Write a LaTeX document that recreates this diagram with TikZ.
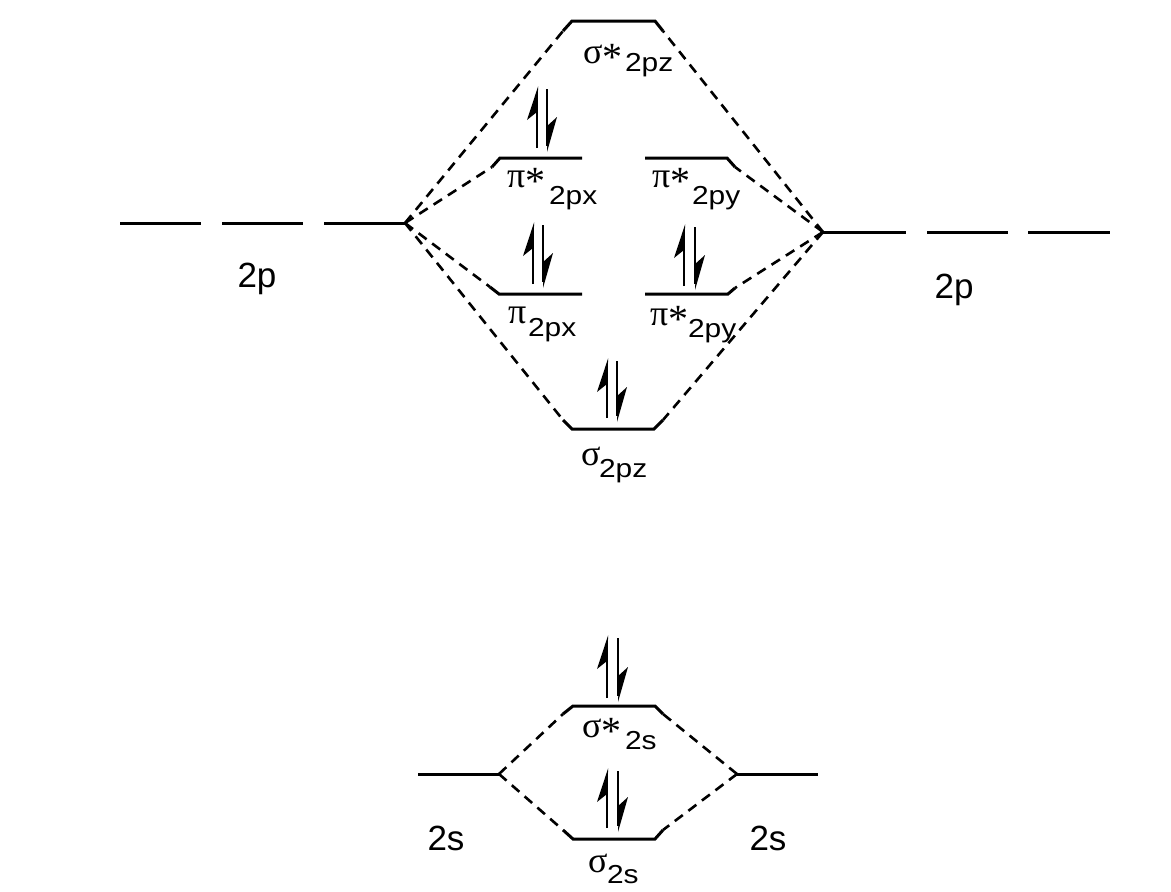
\documentclass[tikz,border=0pt]{standalone}
\usepackage{fontspec}
\setmainfont{Liberation Sans}
\newfontfamily\gk{Liberation Serif}
\newfontfamily\subf[FakeStretch=1.15]{Liberation Sans}
\newcommand\myast{{\fontsize{40}{40}\selectfont\raisebox{-7pt}{*}}}
\newcommand\uparr[3]{%
  \draw[elec] (#1,#3) -- (#1,#2+6);
  \fill (#1+1.2,#2) -- (#1-10,#2+34) -- (#1,#2+26) -- cycle;}
\newcommand\downarr[3]{%
  \draw[elec] (#1,#2) -- (#1,#3-6);
  \fill (#1,#3) -- (#1+10,#3-35) -- (#1+1.2,#3-27) -- cycle;}
\newcommand\epair[4]{\uparr{#1}{#3}{#4-4}\downarr{#2}{#3+3}{#4}}
\begin{document}
\begin{tikzpicture}[x=1pt,y=-1pt,
  level/.style={line width=3pt,line join=miter},
  corr/.style={line width=2.6pt,dash pattern=on 10pt off 7pt},
  elec/.style={line width=2.7pt},
  sym/.style={inner sep=0pt,outer sep=0pt,anchor=base west,font=\fontsize{36}{36}\selectfont\gk},
  sub/.style={inner sep=0pt,outer sep=0pt,anchor=base west,font=\fontsize{26}{26}\selectfont\subf},
  big/.style={inner sep=0pt,anchor=base,font=\fontsize{35}{35}\selectfont}]
\useasboundingbox (0,0) rectangle (1171,892);
% vertices
\coordinate (LV) at (405,223);
\coordinate (RV) at (823,232);
\coordinate (LVs) at (499,774);
\coordinate (RVs) at (737,774);
% orbital ends
\coordinate (szsL) at (563,31);  \coordinate (szsR) at (663,31);
\coordinate (pxsL) at (492,167); \coordinate (pysR) at (735,167);
\coordinate (pxL) at (490,287);  \coordinate (pyR) at (735,288);
\coordinate (szL) at (563,420);  \coordinate (szR) at (663,420);
\coordinate (sssL) at (563,714); \coordinate (sssR) at (663,714);
\coordinate (ssL) at (563,830);  \coordinate (ssR) at (663,830);
% atomic levels
\draw[level] (120,223) -- (201,223);
\draw[level] (222,223) -- (303,223);
\draw[level] (324,223) -- (LV);
\draw[level] (RV) -- (906,232);
\draw[level] (927,232) -- (1008,232);
\draw[level] (1028,232) -- (1110,232);
\draw[level] (418,774) -- (LVs);
\draw[level] (RVs) -- (818,774);
% molecular levels
\draw[level] (szsL) -- (572,21) -- (655,21) -- (szsR);
\draw[level] (pxsL) -- (500,158) -- (582,158);
\draw[level] (645,158) -- (727,158) -- (pysR);
\draw[level] (pxL) -- (499,294) -- (582,294);
\draw[level] (645,294) -- (728,294) -- (pyR);
\draw[level] (szL) -- (572,429) -- (654,429) -- (szR);
\draw[level] (sssL) -- (573,706) -- (655,706) -- (sssR);
\draw[level] (ssL) -- (573,839) -- (655,839) -- (ssR);
% correlation lines
\draw[corr] (LV) -- (szsL);
\draw[corr] (LV) -- (pxsL);
\draw[corr] (LV) -- (pxL);
\draw[corr] (LV) -- (szL);
\draw[corr] (RV) -- (szsR);
\draw[corr] (RV) -- (pysR);
\draw[corr] (RV) -- (pyR);
\draw[corr] (RV) -- (szR);
\draw[corr] (LVs) -- (sssL);
\draw[corr] (LVs) -- (ssL);
\draw[corr] (RVs) -- (sssR);
\draw[corr] (RVs) -- (ssR);
% electrons
\epair{537}{547}{86}{152}
\epair{533}{543}{222}{288}
\epair{684}{695}{224}{290}
\epair{607}{617}{358}{422}
\epair{607}{618}{635}{702}
\epair{607}{618}{768}{832}
% labels
\node[sym] (l1) at (583,63) {σ\myast};
\node[sub] (l1s) at (625,71) {2pz};
\node[sym] (l2) at (507,187) {π\myast};
\node[sub] (l2s) at (549,204) {2px};
\node[sym] (l3) at (652,187) {π\myast};
\node[sub] (l3s) at (692,204) {2py};
\node[sym] (l4) at (508,323) {π};
\node[sub] (l4s) at (528,336) {2px};
\node[sym] (l5) at (650,325) {π\myast};
\node[sub] (l5s) at (688,337) {2py};
\node[sym] (l6) at (581,465) {σ};
\node[sub] (l6s) at (599,477) {2pz};
\node[sym] (l7) at (582,737) {σ\myast};
\node[sub] (l7s) at (625,749) {2s};
\node[sym] (l8) at (588,872) {σ};
\node[sub] (l8s) at (607,883) {2s};
\node[big] (p1) at (257,287) {2p};
\node[big] (p2) at (954,298) {2p};
\node[big] (s1) at (446,850) {2s};
\node[big] (s2) at (768,850) {2s};
\end{tikzpicture}
\end{document}
